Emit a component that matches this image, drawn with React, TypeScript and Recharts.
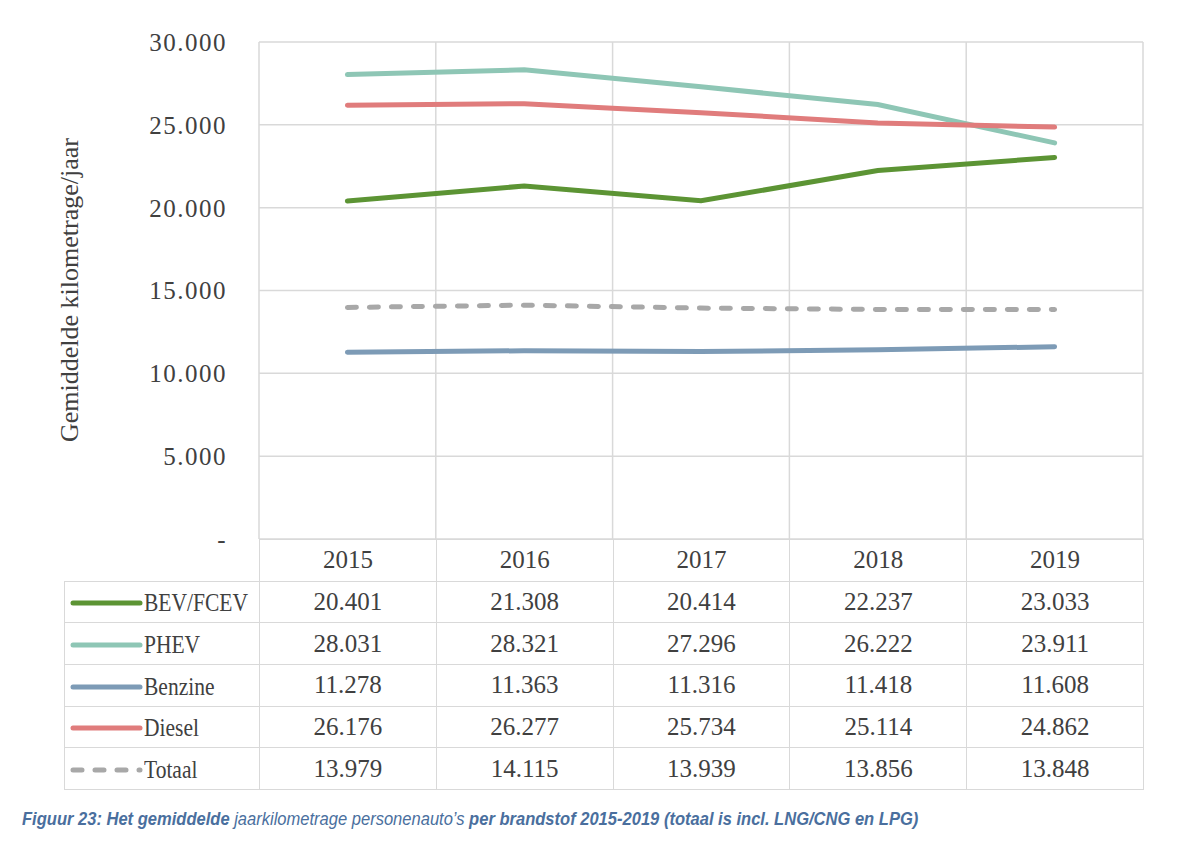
import React from 'react';
import { LineChart, Line, XAxis, YAxis, CartesianGrid } from 'recharts';

const years = ['2015', '2016', '2017', '2018', '2019'];
const bevFcev = [20401, 21308, 20414, 22237, 23033];
const phev = [28031, 28321, 27296, 26222, 23911];
const benzine = [11278, 11363, 11316, 11418, 11608];
const diesel = [26176, 26277, 25734, 25114, 24862];
const totaal = [13979, 14115, 13939, 13856, 13848];
const yTicks = [0, 5000, 10000, 15000, 20000, 25000, 30000];

const series = [
  { key: 'bev', name: 'BEV/FCEV', values: bevFcev, color: '#5c9434', dash: undefined },
  { key: 'phev', name: 'PHEV', values: phev, color: '#8ec6b5', dash: undefined },
  { key: 'benzine', name: 'Benzine', values: benzine, color: '#7d9bb6', dash: undefined },
  { key: 'diesel', name: 'Diesel', values: diesel, color: '#e07c7c', dash: undefined },
  { key: 'totaal', name: 'Totaal', values: totaal, color: '#a8a8a8', dash: '9 13' },
];

const data = years.map((year, i) => {
  const row: Record<string, string | number> = { year };
  series.forEach((s) => (row[s.key] = s.values[i]));
  return row;
});

const fmt = (v: number) => (v === 0 ? '-' : String(v).replace(/\B(?=(\d{3})+(?!\d))/g, '.'));

const FONT = '"Liberation Serif", "DejaVu Serif", serif';
const TEXT = '#404040';
const GRID = '#d9d9d9';

const PLOT_LEFT = 259;
const PLOT_RIGHT = 1143;
const PLOT_TOP = 42;
const PLOT_BOTTOM = 539;
const TABLE_LEFT = 64;
const COL_W = (PLOT_RIGHT - PLOT_LEFT) / years.length;
const ROW_H = 41.7;

const cell: React.CSSProperties = {
  border: `1.5px solid ${GRID}`,
  textAlign: 'center',
  padding: 0,
  boxSizing: 'border-box',
};

export default function App() {
  return (
    <div style={{ position: 'absolute', left: 0, top: 0, width: 1200, height: 854, background: '#fff', fontFamily: FONT, color: TEXT }}>
      <LineChart
        width={1200}
        height={560}
        data={data}
        margin={{ top: PLOT_TOP, right: 1200 - PLOT_RIGHT, left: PLOT_LEFT - 80, bottom: 560 - PLOT_BOTTOM }}
      >
        <CartesianGrid
          stroke={GRID}
          strokeWidth={1.5}
          verticalCoordinatesGenerator={({ offset }: any) =>
            years.map((_, i) => offset.left + (i * offset.width) / years.length).concat([offset.left + offset.width])
          }
        />
        <XAxis dataKey="year" hide scale="point" padding={{ left: COL_W / 2, right: COL_W / 2 }} />
        <YAxis
          width={80}
          domain={[0, 30000]}
          ticks={yTicks}
          interval={0}
          axisLine={false}
          tickLine={false}
          tickSize={0}
          tickMargin={32}
          tickFormatter={fmt}
          tick={{ fill: TEXT, fontSize: 25, fontFamily: FONT, letterSpacing: 1.5 }}
        />
        {series.map((s) => (
          <Line
            key={s.key}
            dataKey={s.key}
            stroke={s.color}
            strokeWidth={5}
            strokeLinecap="round"
            strokeDasharray={s.dash}
            dot={false}
            activeDot={false}
            isAnimationActive={false}
          />
        ))}
      </LineChart>

      <div
        style={{
          position: 'absolute',
          left: 70,
          top: 290,
          transform: 'translate(-50%, -50%) rotate(-90deg)',
          whiteSpace: 'nowrap',
          fontSize: 26,
        }}
      >
        Gemiddelde kilometrage/jaar
      </div>

      <table
        style={{
          position: 'absolute',
          left: TABLE_LEFT,
          top: PLOT_BOTTOM,
          width: PLOT_RIGHT - TABLE_LEFT,
          borderCollapse: 'collapse',
          tableLayout: 'fixed',
          fontSize: 25,
          fontFamily: FONT,
          color: TEXT,
        }}
      >
        <colgroup>
          <col style={{ width: PLOT_LEFT - TABLE_LEFT }} />
          {years.map((y) => (
            <col key={y} style={{ width: COL_W }} />
          ))}
        </colgroup>
        <tbody>
          <tr style={{ height: ROW_H }}>
            <td style={{ padding: 0 }} />
            {years.map((y) => (
              <td key={y} style={cell}>
                {y}
              </td>
            ))}
          </tr>
          {series.map((s) => (
            <tr key={s.key} style={{ height: ROW_H }}>
              <td style={{ ...cell, textAlign: 'left', whiteSpace: 'nowrap', overflow: 'hidden' }}>
                <svg width={76} height={12} style={{ verticalAlign: 'middle', marginLeft: 3 }}>
                  <line
                    x1={5}
                    y1={6}
                    x2={72}
                    y2={6}
                    stroke={s.color}
                    strokeWidth={5}
                    strokeLinecap="round"
                    strokeDasharray={s.dash ? '9 13' : undefined}
                  />
                </svg>
                <span
                  style={{
                    display: 'inline-block',
                    verticalAlign: 'middle',
                    fontSize: 25,
                    transform: 'scaleX(0.86)',
                    transformOrigin: 'left center',
                  }}
                >
                  {s.name}
                </span>
              </td>
              {s.values.map((v, i) => (
                <td key={i} style={cell}>
                  {fmt(v)}
                </td>
              ))}
            </tr>
          ))}
        </tbody>
      </table>

      <div
        style={{
          position: 'absolute',
          left: 22,
          top: 808,
          whiteSpace: 'nowrap',
          fontFamily: '"Liberation Sans", sans-serif',
          fontStyle: 'italic',
          fontSize: 19,
          color: '#4a6f9e',
          transform: 'scaleX(0.87)',
          transformOrigin: 'left center',
        }}
      >
        <b>Figuur 23: Het gemiddelde</b> jaarkilometrage personenauto’s <b>per brandstof 2015-2019 (totaal is incl. LNG/CNG en LPG)</b>
      </div>
    </div>
  );
}
